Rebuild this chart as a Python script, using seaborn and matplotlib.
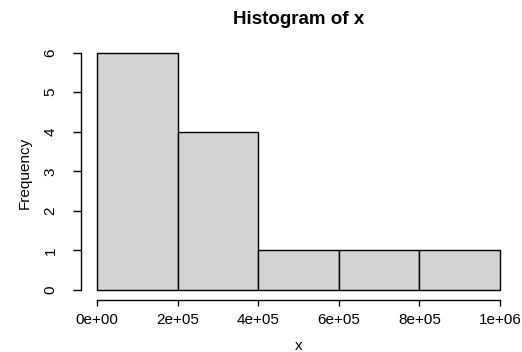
import seaborn as sns
import matplotlib.pyplot as plt

# histogram data (bin edges and counts)
bin_edges = [0, 200000, 400000, 600000, 800000, 1000000]
counts = [6, 4, 1, 1, 1]
x_ticks = [0, 200000, 400000, 600000, 800000, 1000000]
x_tick_labels = ["0e+00", "2e+05", "4e+05", "6e+05", "8e+05", "1e+06"]
y_ticks = [0, 1, 2, 3, 4, 5, 6]

sns.set_style("ticks")
plt.rcParams["font.family"] = ["Liberation Sans", "DejaVu Sans"]
plt.rcParams["text.color"] = "black"
plt.rcParams["axes.labelcolor"] = "black"
plt.rcParams["xtick.color"] = "black"
plt.rcParams["ytick.color"] = "black"

centers = [(a + b) / 2 for a, b in zip(bin_edges[:-1], bin_edges[1:])]

fig = plt.figure(figsize=(5.22, 3.52), dpi=100)
ax = fig.add_axes([0.1552, 0.1491, 0.8335, 0.7282])

sns.histplot(x=centers, weights=counts, bins=bin_edges, color="#D3D3D3",
             edgecolor="black", linewidth=1, alpha=1, ax=ax)

ax.set_xlim(-40000, 1040000)
ax.set_ylim(-0.24, 6.24)
ax.set_xticks(x_ticks)
ax.set_xticklabels(x_tick_labels)
ax.set_yticks(y_ticks)
ax.set_xlabel("")
ax.set_ylabel("")

for side in ["top", "right"]:
    ax.spines[side].set_visible(False)
ax.spines["left"].set_bounds(0, 6)
ax.spines["bottom"].set_bounds(0, 1000000)
for side in ["left", "bottom"]:
    ax.spines[side].set_color("black")
    ax.spines[side].set_linewidth(1)

ax.tick_params(axis="x", length=4.5, width=1, colors="black", labelsize=11, pad=5)
ax.tick_params(axis="y", length=6, width=1, colors="black", labelsize=11, pad=11,
               labelrotation=90)
for lab in ax.get_yticklabels():
    lab.set_va("center")

fig.text(299 / 522, (352 - 24) / 352, "Histogram of x", ha="center",
         va="baseline", fontsize=13.5, fontweight="bold", color="black")
fig.text(299 / 522, (352 - 350.5) / 352, "x", ha="center", va="baseline",
         fontsize=11, color="black")
fig.text(25 / 522, (352 - 173) / 352, "Frequency", rotation=90, ha="center",
         va="center", fontsize=11, color="black")

fig.savefig("out.png", dpi=100)
